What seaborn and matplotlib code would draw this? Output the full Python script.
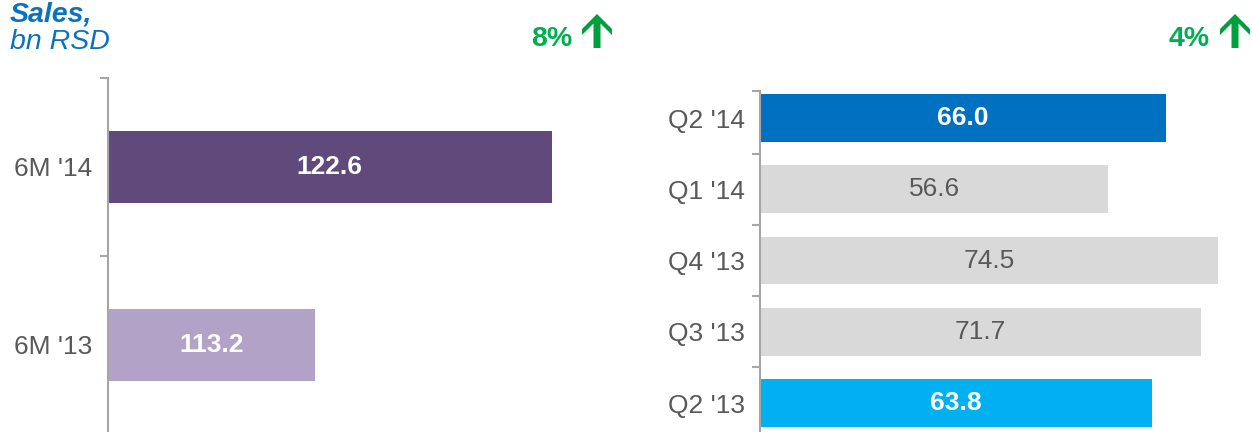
import matplotlib
matplotlib.use("Agg")
import matplotlib.pyplot as plt
import seaborn as sns
import pandas as pd
from matplotlib.patches import Polygon
from matplotlib.ticker import FixedLocator

# ---- data ----
half_cats = ["6M '14", "6M '13"]
half_vals = [122.6, 113.2]
half_colors = ["#604A7B", "#B3A2C7"]
half_label_colors = ["white", "white"]
half_label_bold = [True, True]
half_growth = "8%"

q_cats = ["Q2 '14", "Q1 '14", "Q4 '13", "Q3 '13", "Q2 '13"]
q_vals = [66.0, 56.6, 74.5, 71.7, 63.8]
q_colors = ["#0070C0", "#D9D9D9", "#D9D9D9", "#D9D9D9", "#00B0F0"]
q_label_colors = ["white", "#595959", "#595959", "#595959", "white"]
q_label_bold = [True, False, False, False, True]
q_growth = "4%"

title_line1 = "Sales,"
title_line2 = "bn RSD"

# ---- style ----
sns.set_style("white")
plt.rcParams["font.family"] = ["Liberation Sans", "DejaVu Sans"]

W, H = 1252, 432
fig = plt.figure(figsize=(W / 100, H / 100), dpi=100)


def frac_box(x0, x1, ytop, ybot):
    return [x0 / W, 1 - ybot / H, (x1 - x0) / W, (ybot - ytop) / H]


ax1 = fig.add_axes(frac_box(108, 612, 78, 434))
ax2 = fig.add_axes(frac_box(760, 1252, 91, 438.7))

TEXT_GRAY = "#595959"
SPINE = "#A6A6A6"


def draw(ax, cats, vals, colors, lcolors, lbold, width, xlim, ylim):
    df = pd.DataFrame({"cat": cats, "val": vals})
    sns.barplot(data=df, x="val", y="cat", hue="cat", palette=colors,
                legend=False, orient="h", width=width, saturation=1,
                ax=ax, linewidth=0, order=cats, hue_order=cats)
    ax.set_xlim(*xlim)
    ax.set_ylim(*ylim)
    ax.set_xlabel("")
    ax.set_ylabel("")
    for s in ["top", "right", "bottom"]:
        ax.spines[s].set_visible(False)
    ax.spines["left"].set_color(SPINE)
    ax.spines["left"].set_linewidth(1.5)
    ax.set_xticks([])
    ax.tick_params(axis="y", which="major", left=True, length=0, pad=11,
                   labelsize=19, labelcolor=TEXT_GRAY)
    bounds = [ylim[1]] + [i + 0.5 for i in range(len(cats) - 1)]
    ax.yaxis.set_minor_locator(FixedLocator(bounds))
    ax.tick_params(axis="y", which="minor", left=True, length=6, width=1.5,
                   color=SPINE, direction="out")
    for i, (v, c, b) in enumerate(zip(vals, lcolors, lbold)):
        ax.text((xlim[0] + v) / 2, i, f"{v:.1f}", ha="center", va="center",
                fontsize=19, color=c, fontweight="bold" if b else "normal")


draw(ax1, half_cats, half_vals, half_colors, half_label_colors,
     half_label_bold, 0.405, (105, 125), (1.5, -0.5))
draw(ax2, q_cats, q_vals, q_colors, q_label_colors,
     q_label_bold, 0.67, (0, 80), (4.5, -0.38))

# ---- title ----
BLUE = "#0A72BE"
fig.text(10 / W, 1 - 22 / H, title_line1, color=BLUE, fontsize=20.5,
         fontweight="bold", fontstyle="italic", ha="left", va="baseline")
fig.text(10 / W, 1 - 49 / H, title_line2, color=BLUE, fontsize=20.5,
         fontstyle="italic", ha="left", va="baseline")

# ---- growth markers ----
GREEN_TXT = "#00B050"
GREEN_ARR = "#009E3D"


def growth(text, xr, cx):
    fig.text(xr / W, 1 - 45.5 / H, text, color=GREEN_TXT, fontsize=20.5,
             fontweight="bold", ha="right", va="baseline")
    pts_px = [(cx, 14), (cx + 15, 29), (cx + 15, 35), (cx + 3.5, 23.5),
              (cx + 3.5, 48), (cx - 3.5, 48), (cx - 3.5, 23.5),
              (cx - 15, 35), (cx - 15, 29)]
    pts = [(x / W, 1 - y / H) for x, y in pts_px]
    fig.patches.append(Polygon(pts, closed=True, transform=fig.transFigure,
                               facecolor=GREEN_ARR, edgecolor="none"))


growth(half_growth, 572, 597)
growth(q_growth, 1210, 1235)

fig.savefig("out.png", dpi=100)
